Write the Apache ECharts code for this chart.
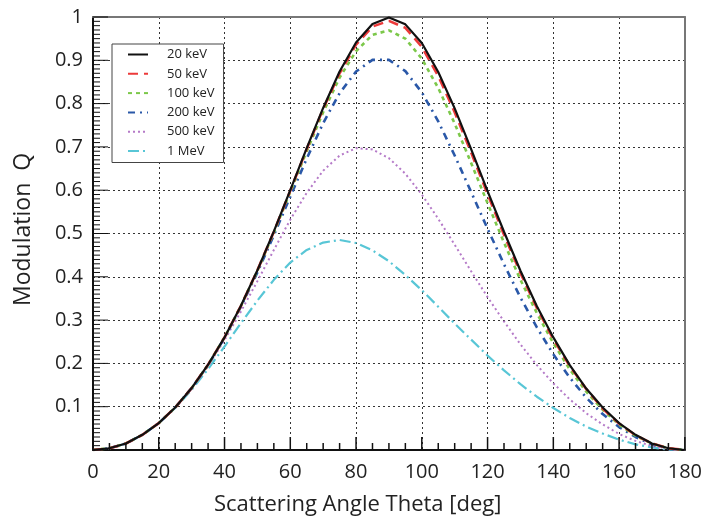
<!DOCTYPE html>
<html>
<head>
<meta charset="utf-8">
<script src="https://cdn.jsdelivr.net/npm/echarts@6/dist/echarts.min.js"></script>
<style>
  html, body { margin: 0; padding: 0; background: #fff; }
  #chart { width: 705px; height: 522px; }
</style>
</head>
<body>
<div id="chart"></div>
<script>
// scattering angle, degrees
const theta = [0, 5, 10, 15, 20, 25, 30, 35, 40, 45, 50, 55, 60, 65, 70, 75, 80, 85, 90,
  95, 100, 105, 110, 115, 120, 125, 130, 135, 140, 145, 150, 155, 160, 165, 170, 175, 180]

// modulation Q
const q20 = [0, 0.004, 0.015, 0.035, 0.062, 0.098, 0.143, 0.197, 0.260, 0.333, 0.415, 0.505, 0.600, 0.697, 0.790, 0.874, 0.941, 0.984, 0.999,
  0.983, 0.940, 0.873, 0.789, 0.695, 0.598, 0.504, 0.414, 0.332, 0.260, 0.196, 0.142, 0.098, 0.062, 0.035, 0.015, 0.004, 0]
const q50 = [0, 0.004, 0.015, 0.035, 0.062, 0.098, 0.143, 0.197, 0.260, 0.333, 0.415, 0.504, 0.599, 0.695, 0.788, 0.870, 0.936, 0.978, 0.991,
  0.975, 0.931, 0.864, 0.780, 0.687, 0.591, 0.497, 0.409, 0.328, 0.256, 0.194, 0.141, 0.096, 0.061, 0.034, 0.015, 0.004, 0]
const q100 = [0, 0.004, 0.015, 0.035, 0.062, 0.098, 0.143, 0.197, 0.260, 0.333, 0.414, 0.502, 0.596, 0.690, 0.780, 0.860, 0.921, 0.959, 0.969,
  0.950, 0.904, 0.836, 0.754, 0.663, 0.570, 0.479, 0.393, 0.316, 0.247, 0.186, 0.135, 0.093, 0.059, 0.033, 0.015, 0.004, 0]
const q200 = [0, 0.004, 0.015, 0.035, 0.062, 0.098, 0.143, 0.196, 0.259, 0.331, 0.410, 0.496, 0.585, 0.673, 0.755, 0.824, 0.874, 0.901, 0.901,
  0.875, 0.826, 0.759, 0.680, 0.596, 0.511, 0.429, 0.352, 0.283, 0.221, 0.167, 0.121, 0.083, 0.053, 0.030, 0.013, 0.003, 0]
const q500 = [0, 0.004, 0.015, 0.035, 0.062, 0.098, 0.142, 0.194, 0.254, 0.320, 0.390, 0.462, 0.532, 0.594, 0.645, 0.680, 0.697, 0.694, 0.674,
  0.638, 0.590, 0.534, 0.474, 0.413, 0.353, 0.297, 0.244, 0.196, 0.154, 0.117, 0.085, 0.059, 0.037, 0.021, 0.009, 0.002, 0]
const q1000 = [0, 0.004, 0.015, 0.035, 0.062, 0.097, 0.139, 0.187, 0.239, 0.293, 0.345, 0.393, 0.433, 0.462, 0.479, 0.485, 0.478, 0.461, 0.436,
  0.404, 0.369, 0.331, 0.292, 0.255, 0.218, 0.184, 0.152, 0.123, 0.097, 0.074, 0.054, 0.038, 0.024, 0.013, 0.006, 0.001, 0]

const seriesNames = ['20 keV', '50 keV', '100 keV', '200 keV', '500 keV', '1 MeV']
const seriesValues = [q20, q50, q100, q200, q500, q1000]

// tick positions on the axes (major every 20 deg / 0.1, minor every 5 deg / 0.01)
const xTickVals = theta
let yTickVals = []
for (let i = 0; i <= 100; i++) yTickVals.push(i / 100)

const FONT = 'Open Sans'

// line look for each energy
const styles = [
  { color: '#111111', width: 2.2, type: 'solid' },
  { color: '#ec3a3a', width: 2.6, type: [10, 6] },
  { color: '#7cc84a', width: 2.6, type: [4, 4] },
  { color: '#2a58a8', width: 2.6, type: [7, 5, 2, 5] },
  { color: '#b57ac8', width: 2, type: [2, 3] },
  { color: '#58c6d6', width: 2.2, type: [11, 4, 2, 4] }
]

let series = []
for (let i = 0; i < seriesNames.length; i++) {
  series.push({
    name: seriesNames[i],
    type: 'line',
    symbol: 'none',
    smooth: false,
    z: 10 - i,
    data: theta.map((t, j) => [t, seriesValues[i][j]]),
    lineStyle: styles[i],
    itemStyle: { color: styles[i].color }
  })
}

// inward ticks (axisTick.inside does not show here), drawn through the axes' scales
series.push({
  type: 'custom',
  silent: true,
  z: 12,
  data: xTickVals.map(v => [v, v % 20 === 0 ? 1 : 0]),
  renderItem: function (params, api) {
    let p = api.coord([api.value(0), 0])
    let len = api.value(1) ? 13 : 7
    return {
      type: 'line',
      shape: { x1: p[0], y1: p[1], x2: p[0], y2: p[1] - len },
      style: { stroke: '#111', lineWidth: 1.5 }
    }
  }
})
series.push({
  type: 'custom',
  silent: true,
  z: 12,
  data: yTickVals.map((v, i) => [v, i % 10 === 0 ? 1 : 0]),
  renderItem: function (params, api) {
    let p = api.coord([0, api.value(0)])
    let len = api.value(1) ? 15 : 7
    return {
      type: 'line',
      shape: { x1: p[0], y1: p[1], x2: p[0] + len, y2: p[1] },
      style: { stroke: '#111', lineWidth: 1 }
    }
  }
})

const gridLine = { show: true, lineStyle: { color: '#333', width: 1, type: [2, 3] } }
// plain gray edge for the top and right side of the frame
const frameAxis = {
  axisLine: { show: true, onZero: false, lineStyle: { color: '#777', width: 2 } },
  axisTick: { show: false },
  axisLabel: { show: false },
  splitLine: { show: false }
}

let myChart = echarts.init(document.getElementById('chart'), null, { renderer: 'canvas' })
let option = {
  animation: false,
  backgroundColor: '#fff',
  grid: { left: 93, right: 13, top: 17, bottom: 72 },
  legend: {
    orient: 'vertical',
    left: 112,
    top: 44,
    z: 20,
    itemWidth: 20,
    itemHeight: 14,
    itemGap: 6.3,
    padding: [4, 9, 5, 15],
    backgroundColor: '#fff',
    borderColor: '#444',
    borderWidth: 1,
    itemStyle: { opacity: 0 },
    textStyle: { fontFamily: FONT, fontSize: 13, color: '#222', padding: [0, 0, 0, 14] },
    data: seriesNames
  },
  xAxis: [
    {
      type: 'value',
      position: 'bottom',
      min: 0,
      max: 180,
      interval: 20,
      axisLine: { show: true, onZero: false, lineStyle: { color: '#111', width: 2 } },
      axisTick: { show: false },
      axisLabel: { fontFamily: FONT, fontSize: 20, color: '#222', margin: 12 },
      splitLine: gridLine
    },
    Object.assign({ type: 'value', position: 'top', min: 0, max: 180, interval: 20 }, frameAxis)
  ],
  yAxis: [
    {
      type: 'value',
      position: 'left',
      min: 0,
      max: 1,
      interval: 0.1,
      axisLine: { show: true, onZero: false, lineStyle: { color: '#111', width: 2 } },
      axisTick: { show: false },
      axisLabel: {
        fontFamily: FONT, fontSize: 20, color: '#222', margin: 10,
        formatter: v => (v === 0 ? '' : String(Math.round(v * 10) / 10))
      },
      splitLine: gridLine
    },
    Object.assign({ type: 'value', position: 'right', min: 0, max: 1, interval: 0.1 }, frameAxis)
  ],
  graphic: [
    {
      type: 'text',
      left: 214,
      top: 494,
      style: { text: 'Scattering Angle Theta [deg]', fontFamily: FONT, fontSize: 22, fill: '#222' }
    },
    {
      type: 'text',
      x: 12,
      y: 306,
      rotation: Math.PI / 2,
      style: { text: 'Modulation  Q', fontFamily: FONT, fontSize: 23, fill: '#222' }
    }
  ],
  series: series
}
myChart.setOption(option)
</script>
</body>
</html>
